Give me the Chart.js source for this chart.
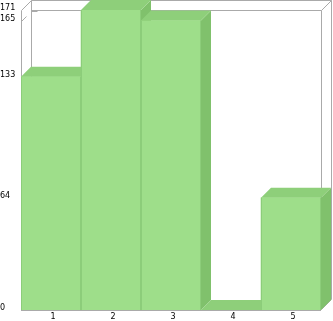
<!DOCTYPE html>
<html>
<head>
<meta charset="utf-8">
<script src="https://cdn.jsdelivr.net/npm/chart.js@4/dist/chart.umd.min.js"></script>
<style>
  body { margin: 0; background: #fff; }
  #wrap { width: 333px; height: 321px; }
</style>
</head>
<body>
<div id="wrap"><canvas id="barChart" width="333" height="321"></canvas></div>
<script>
const categories = ['1', '2', '3', '4', '5'];
const values = [133, 171, 165, 0, 64];
const tickValues = [0, 64, 133, 165, 171];

const DEPTH = 10;
const frontColor = 'rgb(158, 222, 138)';
const topColor = 'rgb(142, 207, 122)';
const sideColor = 'rgb(128, 193, 108)';
const edgeColor = 'rgb(140, 205, 122)';
const frameColor = '#aaaaaa';

function line(ctx, x1, y1, x2, y2) {
    ctx.beginPath();
    ctx.moveTo(x1, y1);
    ctx.lineTo(x2, y2);
    ctx.stroke();
}

// 3d box frame + bars drawn from the bar elements
const box3d = {
    id: 'box3d',
    beforeDatasetsDraw(chart) {
        const ctx = chart.ctx;
        const a = chart.chartArea;
        const d = DEPTH;
        const ys = chart.scales.y;
        ctx.save();
        ctx.strokeStyle = frameColor;
        ctx.lineWidth = 1;
        const L = Math.round(a.left) + 0.5, R = Math.round(a.right) + 0.5;
        const T = Math.round(a.top) + 0.5, B = Math.round(a.bottom) - 0.5;
        // back wall
        line(ctx, L + d, T - d, R + d, T - d);
        line(ctx, L + d, T - d, L + d, B - d);
        line(ctx, R + d, T - d, R + d, B - d);
        // front edges
        line(ctx, L, T, L, B);
        line(ctx, L + d, T, R, T);
        line(ctx, R, T, R, B);
        // diagonals
        line(ctx, L, T, L + d, T - d);
        line(ctx, R, T, R + d, T - d);
        line(ctx, R, B, R + d, B - d);
        line(ctx, L, B, L + d, B - d);
        // grid stubs
        tickValues.forEach(v => {
            if (v === 0 || v === ys.max) return;
            const py = Math.round(ys.getPixelForValue(v)) + 0.5;
            line(ctx, L, py, L + 5, py - 5);
            line(ctx, L + d, py - d, L + d + 6, py - d);
        });
        ctx.restore();
    },
    afterDatasetsDraw(chart) {
        const ctx = chart.ctx;
        const a = chart.chartArea;
        const d = DEPTH;
        const meta = chart.getDatasetMeta(0);
        ctx.save();
        meta.data.forEach(bar => {
            const p = bar.getProps(['x', 'y', 'base', 'width'], true);
            const l = p.x - p.width / 2, r = p.x + p.width / 2;
            const top = p.y, base = p.base;
            // side
            ctx.fillStyle = sideColor;
            ctx.beginPath();
            ctx.moveTo(r, top);
            ctx.lineTo(r + d, top - d);
            ctx.lineTo(r + d, base - d);
            ctx.lineTo(r, base);
            ctx.closePath();
            ctx.fill();
            // top
            ctx.fillStyle = topColor;
            ctx.beginPath();
            ctx.moveTo(l, top);
            ctx.lineTo(l + d, top - d);
            ctx.lineTo(r + d, top - d);
            ctx.lineTo(r, top);
            ctx.closePath();
            ctx.fill();
            // front
            ctx.fillStyle = frontColor;
            ctx.fillRect(l, top, p.width, base - top);
            if (base - top > 0) {
                ctx.strokeStyle = edgeColor;
                ctx.lineWidth = 1;
                line(ctx, Math.round(l) + 0.5, top, Math.round(l) + 0.5, base);
                line(ctx, Math.round(r) - 0.5, top, Math.round(r) - 0.5, base);
            }
        });
        ctx.strokeStyle = frameColor;
        ctx.lineWidth = 1;
        const B = Math.round(a.bottom) + 0.5;
        line(ctx, a.left, B, a.right, B);
        ctx.restore();
    }
};

const chart = new Chart(document.getElementById('barChart'), {
    type: 'bar',
    data: {
        labels: categories,
        datasets: [{
            data: values,
            backgroundColor: frontColor,
            borderWidth: 0,
            categoryPercentage: 1,
            barPercentage: 1
        }]
    },
    options: {
        responsive: false,
        animation: false,
        layout: { padding: { top: 10, right: 12, left: 0, bottom: 0 } },
        plugins: { legend: { display: false }, tooltip: { enabled: false } },
        scales: {
            x: {
                grid: { display: false, drawTicks: false },
                border: { display: false },
                ticks: {
                    color: '#000',
                    font: { family: 'DejaVu Sans', size: 8 },
                    padding: 2,
                    labelOffset: 2,
                    maxRotation: 0
                },
                afterFit(scale) { scale.height = 11; }
            },
            y: {
                min: 0,
                max: 171,
                grid: { display: false, drawTicks: false },
                border: { display: false },
                ticks: {
                    color: '#000',
                    font: { family: 'DejaVu Sans', size: 8 },
                    crossAlign: 'far',
                    padding: 0,
                    labelOffset: -2
                },
                afterBuildTicks(scale) {
                    scale.ticks = tickValues.map(v => ({ value: v }));
                },
                afterFit(scale) { scale.width = 21; }
            }
        }
    },
    plugins: [box3d]
});
</script>
</body>
</html>
